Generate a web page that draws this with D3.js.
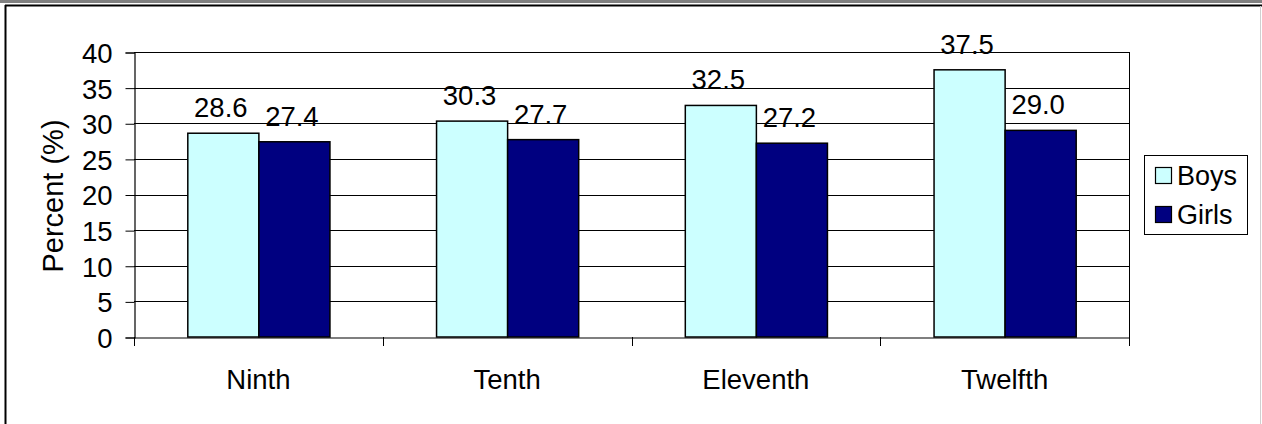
<!DOCTYPE html>
<html>
<head>
<meta charset="utf-8">
<script src="https://cdn.jsdelivr.net/npm/d3@7/dist/d3.min.js"></script>
<style>
  html, body { margin: 0; padding: 0; background: #fff; }
  svg { display: block; }
  text { font-family: "Liberation Sans", Arial, sans-serif; fill: #000; }
</style>
</head>
<body>
<svg id="chart" width="1262" height="424"></svg>
<script>
const categories = ["Ninth", "Tenth", "Eleventh", "Twelfth"];
const seriesNames = ["Boys", "Girls"];
const boysValues = [28.6, 30.3, 32.5, 37.5];
const girlsValues = [27.4, 27.7, 27.2, 29.0];
const yTickValues = [0, 5, 10, 15, 20, 25, 30, 35, 40];
const seriesColors = ["#CCFFFF", "#000080"];

const seriesValues = [boysValues, girlsValues];
const data = categories.map((c, i) => ({
  cat: c,
  vals: seriesNames.map((s, j) => ({ series: s, value: seriesValues[j][i], color: seriesColors[j] }))
}));

const svg = d3.select("#chart");
const W = 1262, H = 424;
const plot = { left: 134, right: 1129, top: 52, bottom: 337 };

// frame
svg.append("rect").attr("x", 0).attr("y", 0).attr("width", W).attr("height", 3).attr("fill", "#808080");
svg.append("line").attr("x1", 5).attr("x2", W).attr("y1", 5.5).attr("y2", 5.5).attr("stroke", "#000").attr("stroke-width", 2);
svg.append("line").attr("x1", 5.5).attr("x2", 5.5).attr("y1", 5).attr("y2", H).attr("stroke", "#000").attr("stroke-width", 2);
svg.append("line").attr("x1", W - 1.5).attr("x2", W - 1.5).attr("y1", 6).attr("y2", H).attr("stroke", "#d0d0d0").attr("stroke-width", 1);

const x = d3.scaleBand().domain(categories).range([plot.left, plot.right]).padding(0);
const bw = x.bandwidth();
const groupW = bw * 2 / 3.5;
const xs = d3.scaleBand().domain(seriesNames).range([(bw - groupW) / 2, (bw + groupW) / 2]).padding(0);
const y = d3.scaleLinear().domain([0, 40]).range([plot.bottom, plot.top]);

// gridlines
svg.append("g").selectAll("line").data(yTickValues.filter(v => v > 0)).join("line")
  .attr("x1", plot.left).attr("x2", plot.right)
  .attr("y1", d => Math.round(y(d)) + 0.5).attr("y2", d => Math.round(y(d)) + 0.5)
  .attr("stroke", "#000").attr("stroke-width", 1);
// right border
svg.append("line").attr("x1", plot.right + 0.5).attr("x2", plot.right + 0.5)
  .attr("y1", plot.top).attr("y2", plot.bottom).attr("stroke", "#000");

// y axis
const yAxis = d3.axisLeft(y).tickValues(yTickValues).tickSize(9).tickPadding(13).tickFormat(d3.format("d"));
const gy = svg.append("g").attr("transform", `translate(${plot.left + 0.5},0.5)`).call(yAxis);
gy.select(".domain").attr("stroke", "#000").attr("stroke-width", 1.2);
gy.selectAll(".tick line").attr("stroke", "#000");
gy.selectAll(".tick text").attr("font-size", 27.5).attr("font-family", "Liberation Sans, Arial, sans-serif").attr("fill", "#000").attr("dy", "0.36em");

// bars
const groups = svg.append("g").selectAll("g").data(data).join("g")
  .attr("transform", d => `translate(${x(d.cat)},0)`);
groups.selectAll("rect").data(d => d.vals).join("rect")
  .attr("x", d => xs(d.series) + 0.5)
  .attr("y", d => y(d.value))
  .attr("width", xs.bandwidth())
  .attr("height", d => y(0) - y(d.value))
  .attr("fill", d => d.color)
  .attr("stroke", "#000").attr("stroke-width", 1.5);
groups.selectAll("text.val").data(d => d.vals).join("text").attr("class", "val")
  .attr("x", d => xs(d.series) + xs.bandwidth() / 2 - 2)
  .attr("y", d => y(d.value) - 16)
  .attr("text-anchor", "middle").attr("font-size", 27.5)
  .text(d => d.value.toFixed(1));

// x axis
const xAxis = d3.axisBottom(x).tickSize(0).tickPadding(0);
const gx = svg.append("g").attr("transform", `translate(0,${plot.bottom + 0.5})`).call(xAxis);
gx.select(".domain").attr("stroke", "#000").attr("stroke-width", 1.2);
gx.selectAll(".tick text").attr("font-size", 27.5).attr("font-family", "Liberation Sans, Arial, sans-serif").attr("fill", "#000").attr("dy", null).attr("y", 51);
// category boundary ticks
const boundaries = categories.map(c => x(c)).concat([plot.right]);
svg.append("g").selectAll("line").data(boundaries).join("line")
  .attr("x1", d => Math.round(d) + 0.5).attr("x2", d => Math.round(d) + 0.5)
  .attr("y1", plot.bottom).attr("y2", plot.bottom + 9)
  .attr("stroke", "#000");

// top border
svg.append("line").attr("x1", plot.left).attr("x2", plot.right + 1)
  .attr("y1", plot.top + 0.5).attr("y2", plot.top + 0.5).attr("stroke", "#000");

// y title
svg.append("text")
  .attr("transform", `translate(63,196) rotate(-90)`)
  .attr("text-anchor", "middle").attr("font-size", 29)
  .text("Percent (%)");

// legend
const lg = svg.append("g");
lg.append("rect").attr("x", 1144.5).attr("y", 155.5).attr("width", 103).attr("height", 79)
  .attr("fill", "#fff").attr("stroke", "#000");
const items = lg.selectAll("g").data(seriesNames).join("g")
  .attr("transform", (d, i) => `translate(1155,${167 + i * 39})`);
items.append("rect").attr("x", 0.5).attr("y", 0.5).attr("width", 16).attr("height", 16)
  .attr("fill", (d, i) => seriesColors[i]).attr("stroke", "#000").attr("stroke-width", 1.2);
items.append("text").attr("x", 22).attr("y", 18).attr("font-size", 27).text(d => d);
</script>
</body>
</html>
